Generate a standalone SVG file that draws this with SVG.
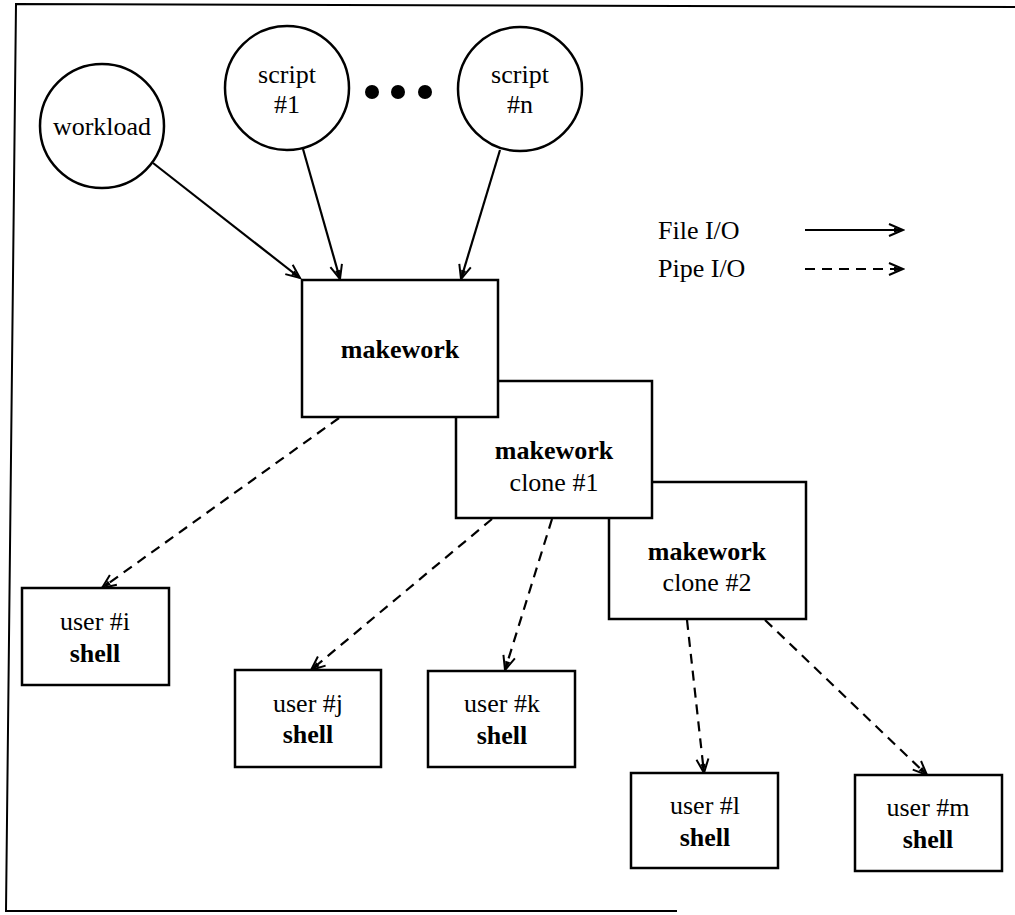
<svg xmlns="http://www.w3.org/2000/svg" width="1015" height="915" viewBox="0 0 1015 915">
<defs>
<style>
.t{font-family:"Liberation Serif","Times New Roman",serif;font-size:26px;fill:#000;text-anchor:middle}
.b{font-weight:bold}
.shape{fill:#fff;stroke:#000;stroke-width:2.5}
.c{fill:none;stroke:#000;stroke-width:2.2}
.d{stroke-dasharray:10 7}
</style>
<marker id="arr" viewBox="-15 -8 17 16" refX="0" refY="0" markerWidth="17" markerHeight="16" orient="auto" markerUnits="userSpaceOnUse">
<path d="M-14,-6 L0,0 L-14,6" fill="none" stroke="#000" stroke-width="2"/>
<path d="M-9,-2.5 L0,0 L-9,2.5 Z" fill="#000"/>
</marker>
</defs>
<rect width="1015" height="915" fill="#fff"/>
<path id="frame" d="M1015,7 L16,4 L6,911 L677,911" fill="none" stroke="#000" stroke-width="2"/>

<g id="connectors">
<line class="c" x1="153" y1="163" x2="300" y2="278" marker-end="url(#arr)"/>
<line class="c" x1="303" y1="149" x2="340" y2="279" marker-end="url(#arr)"/>
<line class="c" x1="500" y1="150" x2="461" y2="279" marker-end="url(#arr)"/>
<line class="c d" x1="339" y1="418" x2="102" y2="588" marker-end="url(#arr)"/>
<line class="c d" x1="492" y1="519" x2="311" y2="670" marker-end="url(#arr)"/>
<line class="c d" x1="552" y1="519" x2="505" y2="670" marker-end="url(#arr)"/>
<line class="c d" x1="687" y1="620" x2="704" y2="773" marker-end="url(#arr)"/>
<line class="c d" x1="765" y1="620" x2="927" y2="775" marker-end="url(#arr)"/>
</g>

<g id="workload">
<circle class="shape" cx="102" cy="126" r="62"/>
<text class="t" x="102" y="135">workload</text>
</g>
<g id="script1">
<circle class="shape" cx="287" cy="88" r="62"/>
<text class="t" x="287" y="83">script</text>
<text class="t" x="287" y="113">#1</text>
</g>
<g id="dots">
<circle cx="372" cy="92" r="7"/>
<circle cx="398" cy="92" r="7"/>
<circle cx="425" cy="92" r="7"/>
</g>
<g id="scriptn">
<circle class="shape" cx="520" cy="89" r="62"/>
<text class="t" x="520" y="83">script</text>
<text class="t" x="520" y="113">#n</text>
</g>

<g id="legend">
<text class="t" x="658" y="239" style="text-anchor:start">File I/O</text>
<text class="t" x="658" y="277" style="text-anchor:start">Pipe I/O</text>
<line class="c" x1="805" y1="230" x2="903" y2="230" marker-end="url(#arr)"/>
<line class="c d" x1="805" y1="269" x2="903" y2="269" marker-end="url(#arr)"/>
</g>

<g id="clone2">
<rect class="shape" x="609" y="482" width="197" height="137"/>
<text class="t b" x="707" y="560">makework</text>
<text class="t" x="707" y="591">clone #2</text>
</g>
<g id="clone1">
<rect class="shape" x="456" y="381" width="196" height="137"/>
<text class="t b" x="554" y="459">makework</text>
<text class="t" x="554" y="491">clone #1</text>
</g>
<g id="makework">
<rect class="shape" x="302" y="280" width="196" height="137"/>
<text class="t b" x="400" y="358">makework</text>
</g>

<g id="useri">
<rect class="shape" x="22" y="588" width="147" height="97"/>
<text class="t" x="95" y="630">user #i</text>
<text class="t b" x="95" y="662">shell</text>
</g>
<g id="userj">
<rect class="shape" x="235" y="670" width="146" height="97"/>
<text class="t" x="308" y="712">user #j</text>
<text class="t b" x="308" y="743">shell</text>
</g>
<g id="userk">
<rect class="shape" x="428" y="671" width="147" height="96"/>
<text class="t" x="502" y="712">user #k</text>
<text class="t b" x="502" y="744">shell</text>
</g>
<g id="userl">
<rect class="shape" x="631" y="773" width="147" height="95"/>
<text class="t" x="705" y="814">user #l</text>
<text class="t b" x="705" y="846">shell</text>
</g>
<g id="userm">
<rect class="shape" x="855" y="775" width="147" height="96"/>
<text class="t" x="928" y="816">user #m</text>
<text class="t b" x="928" y="848">shell</text>
</g>
</svg>
